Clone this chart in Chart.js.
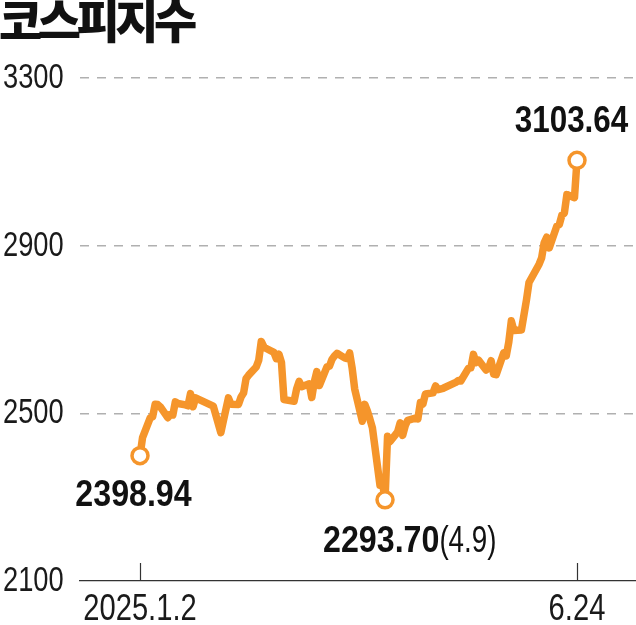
<!DOCTYPE html>
<html><head><meta charset="utf-8">
<script src="https://cdn.jsdelivr.net/npm/chart.js@4"></script>
<style>
html,body{margin:0;padding:0;background:#fff;}
#wrap{position:relative;width:636px;height:625px;overflow:hidden;}
#title{position:absolute;left:-1px;top:-8px;font-family:"Noto Sans CJK KR";font-weight:900;font-size:47px;letter-spacing:-4.5px;color:#111;line-height:1.1;white-space:nowrap;}
canvas{position:absolute;left:0;top:0;}
</style></head><body>
<div id="wrap"><canvas id="c" width="636" height="625"></canvas><div id="title">코스피지수</div></div>
<script>
const dates = ["1.2","1.3","1.6","1.7","1.8","1.9","1.10","1.13","1.14","1.15","1.16","1.17","1.20","1.21","1.22","1.23","1.24","1.31",
"2.3","2.4","2.5","2.6","2.7","2.10","2.11","2.12","2.13","2.14","2.17","2.18","2.19","2.20","2.21","2.24","2.25","2.26","2.27","2.28",
"3.4","3.5","3.6","3.7","3.10","3.11","3.12","3.13","3.14","3.17","3.18","3.19","3.20","3.21","3.24","3.25","3.26","3.27","3.28","3.31",
"4.1","4.2","4.3","4.4","4.7","4.8","4.9","4.10","4.11","4.14","4.15","4.16","4.17","4.18","4.21","4.22","4.23","4.24","4.25","4.28","4.29","4.30",
"5.2","5.7","5.8","5.9","5.12","5.13","5.14","5.15","5.16","5.19","5.20","5.21","5.22","5.23","5.26","5.27","5.28","5.29","5.30",
"6.2","6.4","6.5","6.9","6.10","6.11","6.12","6.13","6.16","6.17","6.18","6.19","6.20","6.23","6.24"];
const values = [2398.94,2441.92,2488.64,2492.10,2521.90,2521.05,2515.78,2489.56,2497.09,2496.11,2527.49,2523.55,2520.05,2518.03,2547.06,2515.59,2536.80,2517.37,
2453.95,2481.69,2509.27,2536.75,2521.92,2521.27,2539.05,2548.39,2583.17,2591.05,2610.42,2626.81,2671.52,2659.00,2654.58,2645.27,2630.26,2641.09,2621.75,2532.78,
2529.00,2558.13,2576.16,2563.48,2570.39,2537.60,2574.82,2599.38,2566.36,2610.69,2612.34,2628.62,2637.16,2643.13,2632.30,2630.66,2643.94,2607.15,2557.98,2481.12,
2521.39,2505.86,2486.70,2465.42,2328.20,2334.23,2293.70,2445.06,2432.72,2455.89,2477.41,2447.31,2470.50,2483.42,2488.42,2486.64,2525.56,2522.33,2546.30,2548.86,2565.42,2556.61,
2559.79,2573.80,2578.30,2577.27,2607.33,2608.42,2640.57,2621.02,2626.87,2603.42,2608.00,2625.58,2593.67,2592.09,2644.40,2637.22,2670.23,2720.64,2697.67,
2698.97,2770.84,2812.05,2855.77,2871.00,2907.04,2920.03,2894.62,2946.66,2950.30,2972.68,2977.74,3021.84,3014.47,3103.64];
const yTicks = [2100, 2500, 2900, 3300];
const xTickDates = ["1.2", "6.24"];
const xTickLabels = ["2025.1.2", "6.24"];
const markedDates = ["1.2", "4.9", "6.24"];

const ORANGE = "#F5952B";
const FONT = '"Liberation Sans", Arial, sans-serif';
function dayOf(s){const [m,d]=s.split('.').map(Number);return (Date.UTC(2025,m-1,d)-Date.UTC(2025,0,2))/86400000;}
const points = dates.map((d,i)=>({x:dayOf(d), y:values[i], d:d}));
const lastDay = dayOf(dates[dates.length-1]);
const ppd = 437/lastDay;

function drawNarrow(ctx, text, x, y, align, sx){
  ctx.save(); ctx.translate(x, y); ctx.scale(sx, 1); ctx.textAlign = align; ctx.fillText(text, 0, 0); ctx.restore();
  return ctx.measureText(text).width * sx;
}

const axisText = {
  id:'axisText',
  afterDraw(chart){
    const {ctx, chartArea, scales:{x,y}} = chart;
    ctx.save();
    ctx.strokeStyle='#333'; ctx.lineWidth=1.2;
    x.ticks.forEach(t=>{const px=Math.round(x.getPixelForValue(t.value))+0.5;
      ctx.beginPath(); ctx.moveTo(px, chartArea.bottom); ctx.lineTo(px, chartArea.bottom-18); ctx.stroke();});
    ctx.fillStyle='#1a1a1a'; ctx.textBaseline='alphabetic';
    ctx.font = '36px ' + FONT;
    x.ticks.forEach((t,i)=>{ drawNarrow(ctx, xTickLabels[i], x.getPixelForValue(t.value), chartArea.bottom+39, 'center', 0.81); });
    ctx.font = '35px ' + FONT;
    y.ticks.forEach(t=>{ drawNarrow(ctx, String(t.value), 3, y.getPixelForValue(t.value)+10, 'left', 0.78); });
    ctx.restore();
  }
};
const callouts = {
  id:'callouts',
  afterDatasetsDraw(chart){
    const {ctx, scales:{x,y}} = chart;
    ctx.save(); ctx.fillStyle='#111'; ctx.textBaseline='alphabetic';
    markedDates.forEach((d,k)=>{
      const i = dates.indexOf(d);
      const px = x.getPixelForValue(dayOf(d)), py = y.getPixelForValue(values[i]);
      const txt = values[i].toFixed(2);
      ctx.font = 'bold 37px ' + FONT;
      if (k===0){ drawNarrow(ctx, txt, px-6.5, py+50, 'center', 0.87); }
      else if (k===1){ const sx = px-62; const w = drawNarrow(ctx, txt, sx, py+52, 'left', 0.87);
        ctx.font = '37px ' + FONT; drawNarrow(ctx, '('+d+')', sx+w, py+52, 'left', 0.75); }
      else { drawNarrow(ctx, txt, px-5.5, py-28, 'center', 0.85); }
    });
    ctx.restore();
  }
};

new Chart(document.getElementById('c'), {
  type:'line',
  data:{datasets:[{data:points, borderColor:ORANGE, borderWidth:7.5, borderJoinStyle:'round', borderCapStyle:'round', tension:0,
    pointRadius:(c)=> markedDates.includes(points[c.dataIndex].d)?8:0,
    pointBackgroundColor:'#fff', pointBorderColor:ORANGE, pointBorderWidth:3.5, pointHoverRadius:0}]},
  options:{
    responsive:false, animation:false, events:[],
    layout:{autoPadding:false, padding:{left:3, top:78, right:0, bottom:0}},
    plugins:{legend:{display:false}, tooltip:{enabled:false}},
    scales:{
      x:{type:'linear', min:-60/ppd, max:lastDay+59/ppd,
        afterBuildTicks:(s)=>{s.ticks = xTickDates.map(d=>({value:dayOf(d)}));},
        afterFit:(s)=>{s.height=44;},
        grid:{display:false},
        border:{display:true, color:'#333', width:1.2},
        ticks:{display:false}
      },
      y:{min:2100, max:3300,
        afterBuildTicks:(s)=>{s.ticks = yTicks.map(v=>({value:v}));},
        afterFit:(s)=>{s.width=77;},
        border:{display:false, dash:[9,8]},
        grid:{drawTicks:false, color:(c)=> c.tick && c.tick.value===2100 ? 'rgba(0,0,0,0)' : '#b0b0b0', lineWidth:1.5},
        ticks:{display:false}
      }
    }
  },
  plugins:[axisText, callouts]
});
</script>
</body></html>
